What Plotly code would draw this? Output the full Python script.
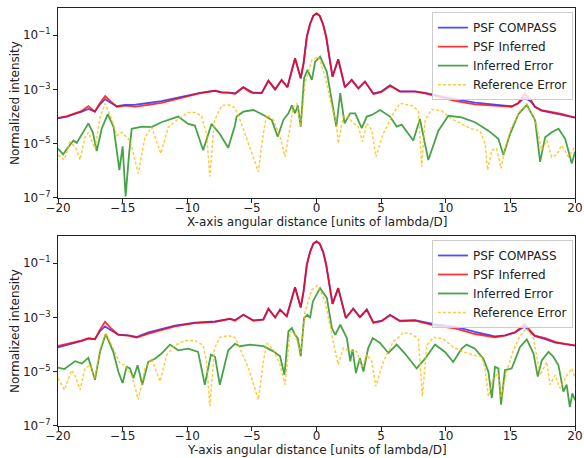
import numpy as np
import plotly.graph_objects as go

# ---------------- data (log10 of normalized intensity) ----------------
# Top panel: X-axis cut
top_x_psf = [-20, -19.3, -18.7, -18.2, -17.65, -17.15, -16.75, -16.35, -15.9, -15.45, -14.8, -14.0, -13.0, -12.0,
             -11.0, -10.0, -9.0, -7.85, -7.35, -6.7, -6.3, -5.66, -5.2, -4.88, -4.24, -3.72, -3.2, -2.7, -2.25,
             -1.66, -1.22, -1.0, -0.75, -0.5, -0.25, 0.0, 0.25, 0.5, 0.75, 1.0, 1.24, 1.68, 2.2, 2.72, 3.24, 3.75,
             4.4, 5.0, 5.69, 6.46, 7.62, 8.4, 9.17, 10.7, 12.26, 13.8, 15.1, 15.6, 16.1, 16.6, 16.9, 17.4, 18.2,
             18.97, 19.5, 20]
top_compass_log10 = [-4.07, -4.0, -3.9, -3.83, -3.72, -3.82, -3.55, -3.36, -3.5, -3.62, -3.57, -3.56, -3.5, -3.43,
                     -3.33, -3.23, -3.13, -3.05, -3.1, -3.12, -3.15, -2.92, -3.03, -3.12, -3.13, -2.68, -3.0, -2.65,
                     -2.92, -1.85, -2.59, -2.04, -1.06, -0.59, -0.29, -0.2, -0.29, -0.59, -1.06, -1.85, -2.53, -1.89,
                     -2.92, -2.65, -2.96, -2.71, -3.15, -3.08, -2.85, -3.07, -3.07, -3.13, -3.21, -3.36, -3.49, -3.57,
                     -3.62, -3.52, -3.3, -3.45, -3.64, -3.78, -3.86, -3.94, -3.99, -4.04]
top_inferred_log10 = [-4.05, -3.98, -3.88, -3.8, -3.62, -3.82, -3.5, -3.25, -3.45, -3.64, -3.6, -3.63, -3.57, -3.5,
                      -3.38, -3.25, -3.14, -3.05, -3.12, -3.13, -3.16, -2.92, -3.08, -3.14, -3.14, -2.68, -3.0, -2.65,
                      -2.92, -1.85, -2.59, -2.04, -1.06, -0.59, -0.29, -0.2, -0.29, -0.59, -1.06, -1.85, -2.53, -1.89,
                      -2.92, -2.65, -2.96, -2.71, -3.17, -3.1, -2.87, -3.08, -3.08, -3.15, -3.24, -3.42, -3.55, -3.6,
                      -3.64, -3.5, -3.16, -3.4, -3.64, -3.76, -3.82, -3.9, -3.97, -4.03]
top_x_inf_err = [-20.0, -19.6, -19.2, -18.8, -18.55, -18.16, -17.65, -17.3, -17.0, -16.62,
                 -16.15, -15.7, -15.46, -15.25, -15.0, -14.77, -14.51, -14.3, -13.5, -12.76,
                 -12.0, -10.7, -9.93, -9.41, -8.77, -8.12, -7.48, -6.83, -6.31, -6.18,
                 -5.66, -4.88, -4.11, -3.46, -3.0, -2.56, -2.17, -1.91, -1.66, -1.45,
                 -1.22, -0.96, -0.7, -0.36, -0.1, 0.28, 0.8, 1.19, 1.53, 1.84,
                 2.17, 2.61, 2.99, 3.5, 3.89, 4.28, 4.92, 5.69, 6.21, 6.59,
                 7.0, 7.49, 8.0, 8.65, 9.43, 10.2, 11.23, 12.26, 13.3, 14.07,
                 14.46, 14.98, 15.62, 16.27, 16.92, 17.3, 17.69, 18.2, 18.72, 19.24,
                 19.75, 20.0]
top_inf_err_log10 = [-5.18, -5.39, -5.12, -4.88, -4.97, -4.64, -4.25, -4.6, -5.27, -4.45,
                     -3.91, -4.39, -5.2, -5.97, -5.1, -6.94, -5.42, -4.45, -4.37, -4.39,
                     -4.21, -4.0, -4.27, -4.33, -5.24, -4.27, -4.64, -5.15, -4.33, -4.0,
                     -3.82, -3.76, -3.94, -4.13, -4.74, -4.12, -3.88, -3.59, -3.88, -3.59,
                     -4.37, -2.59, -2.28, -2.65, -1.98, -1.79, -2.35, -3.39, -4.37, -3.14,
                     -4.25, -3.88, -3.88, -4.43, -4.0, -3.94, -3.76, -4.0, -4.37, -4.3,
                     -4.55, -4.88, -4.09, -5.6, -4.52, -3.97, -4.03, -4.21, -4.52, -4.82,
                     -5.42, -4.64, -3.91, -3.57, -4.15, -5.67, -4.76, -4.58, -4.45, -4.82,
                     -5.73, -5.3]
top_x_ref_err = [-20.0, -19.5, -19.1, -18.65, -18.3, -17.91, -17.65, -17.14, -16.75, -16.36,
                 -15.85, -15.46, -15.07, -14.43, -13.79, -13.27, -12.76, -12.37, -12.04, -11.47,
                 -10.7, -9.93, -9.41, -8.9, -8.51, -8.25, -7.9, -7.34, -6.83, -6.31,
                 -5.92, -5.27, -4.5, -4.11, -3.85, -3.33, -2.82, -2.43, -2.04, -1.79,
                 -1.53, -1.22, -0.89, -0.36, 0.15, 0.67, 1.06, 1.53, 1.68, 2.07,
                 2.46, 2.84, 3.24, 3.55, 3.89, 4.28, 4.59, 5.18, 5.95, 6.46,
                 6.8, 7.36, 7.88, 8.14, 8.4, 8.91, 9.69, 10.46, 11.23, 12.0,
                 12.65, 13.04, 13.24, 13.56, 13.94, 14.28, 14.58, 15.1, 15.75, 16.27,
                 16.92, 17.43, 17.82, 18.2, 18.59, 18.97, 19.49, 20.0]
top_ref_err_log10 = [-5.42, -5.6, -4.94, -5.12, -5.6, -4.76, -4.58, -5.18, -4.03, -3.52,
                     -4.09, -4.7, -4.58, -4.88, -6.09, -4.76, -4.39, -4.88, -5.36, -4.39,
                     -4.09, -3.85, -3.85, -3.97, -4.64, -6.21, -4.15, -3.6, -3.57, -3.67,
                     -4.13, -4.99, -6.03, -4.62, -3.94, -4.13, -4.74, -5.48, -4.37, -3.64,
                     -3.51, -4.37, -2.78, -1.92, -1.79, -2.53, -3.39, -4.25, -4.99, -4.0,
                     -4.0, -4.25, -4.37, -4.92, -4.25, -4.5, -5.48, -4.62, -3.88, -3.51,
                     -3.55, -3.59, -3.79, -5.85, -4.15, -3.73, -3.79, -4.09, -4.27, -4.45,
                     -4.52, -5.0, -5.97, -5.24, -5.18, -5.91, -5.18, -4.39, -3.79, -3.55,
                     -4.15, -5.24, -4.88, -5.5, -5.4, -5.06, -5.48, -5.12]

# Bottom panel: Y-axis cut
bot_x_psf = [-20, -19.3, -18.68, -18.2, -17.65, -17.14, -16.75, -16.36, -15.9, -15.33, -14.56, -13.92, -13.0, -12.0,
             -10.96, -9.41, -7.85, -6.7, -6.31, -5.66, -4.88, -4.11, -3.72, -3.2, -2.82, -2.3, -1.66, -1.22, -1.0,
             -0.75, -0.5, -0.25, 0.0, 0.25, 0.52, 0.75, 1.0, 1.24, 1.68, 2.27, 2.84, 3.36, 3.89, 4.4, 5.05, 5.69,
             6.46, 7.62, 9.17, 10.71, 12.26, 13.81, 14.58, 15.36, 16.1, 16.88, 17.69, 18.46, 19.24, 20]
bot_compass_log10 = [-4.1, -4.02, -3.95, -3.87, -3.78, -3.8, -3.5, -3.33, -3.47, -3.63,
                     -3.66, -3.72, -3.55, -3.43, -3.3, -3.19, -3.15, -3.05, -3.1, -2.9,
                     -3.11, -3.07, -2.68, -3.0, -2.71, -2.96, -1.89, -2.63, -2.04, -1.06,
                     -0.59, -0.29, -0.2, -0.29, -0.59, -1.06, -1.85, -2.5, -1.92, -3.02,
                     -2.68, -2.99, -2.71, -3.18, -3.12, -2.9, -3.12, -3.1, -3.26, -3.34,
                     -3.53, -3.7, -3.66, -3.55, -3.33, -3.68, -3.8, -3.93, -3.98, -4.04]
bot_inferred_log10 = [-4.05, -3.98, -3.92, -3.85, -3.76, -3.8, -3.45, -3.16, -3.4, -3.64,
                      -3.67, -3.74, -3.6, -3.48, -3.33, -3.21, -3.16, -3.05, -3.12, -2.9,
                      -3.12, -3.08, -2.68, -3.0, -2.71, -2.96, -1.89, -2.63, -2.04, -1.06,
                      -0.59, -0.29, -0.2, -0.29, -0.59, -1.06, -1.85, -2.5, -1.92, -3.02,
                      -2.68, -2.99, -2.71, -3.2, -3.14, -2.92, -3.14, -3.12, -3.3, -3.4,
                      -3.61, -3.73, -3.67, -3.55, -3.24, -3.67, -3.76, -3.9, -3.97, -4.03]
bot_x_inf_err = [-20.0, -19.5, -18.68, -18.16, -17.65, -17.14, -16.75, -16.31, -15.72, -15.33,
                 -15.0, -14.69, -14.43, -14.17, -13.84, -13.48, -13.02, -12.5, -11.99, -11.34,
                 -10.7, -9.93, -9.16, -8.64, -8.17, -7.85, -7.48, -6.83, -6.31, -5.92,
                 -5.14, -4.11, -3.33, -2.82, -2.48, -2.17, -1.91, -1.66, -1.45, -1.22,
                 -0.96, -0.7, -0.5, -0.28, 0.28, 0.8, 1.19, 1.45, 1.84, 2.35,
                 2.61, 2.79, 3.05, 3.36, 3.63, 4.0, 4.35, 4.92, 5.56, 6.21,
                 6.84, 7.36, 7.75, 8.4, 9.17, 9.94, 10.58, 11.23, 11.61, 12.26,
                 12.91, 13.3, 13.56, 13.81, 14.07, 14.28, 14.58, 15.1, 15.75, 16.27,
                 16.79, 17.12, 17.43, 17.95, 18.33, 18.72, 19.1, 19.35, 19.6, 19.8, 20.0]
bot_inf_err_log10 = [-4.85, -4.9, -4.61, -4.7, -4.49, -5.3, -4.27, -3.61, -4.27, -5.0,
                     -5.42, -4.82, -4.88, -5.24, -4.76, -5.48, -4.64, -4.52, -4.33, -4.0,
                     -4.21, -4.15, -4.27, -5.48, -4.37, -4.45, -5.48, -4.21, -3.97, -4.06,
                     -4.0, -4.06, -4.25, -4.43, -5.11, -3.51, -3.39, -3.64, -3.76, -4.43,
                     -3.02, -2.9, -3.02, -2.41, -1.92, -2.28, -3.39, -3.64, -3.27, -3.76,
                     -4.62, -4.18, -5.05, -4.5, -4.99, -4.13, -3.76, -3.94, -4.31, -4.0,
                     -4.33, -4.64, -4.88, -4.52, -4.0, -4.27, -4.64, -4.15, -4.0, -4.15,
                     -4.52, -5.0, -5.97, -4.82, -4.88, -6.21, -4.94, -4.88, -4.09, -3.81,
                     -4.33, -5.18, -4.58, -4.27, -4.45, -4.76, -5.73, -5.48, -6.3, -5.8, -6.05]
bot_x_ref_err = [-20.0, -19.5, -18.94, -18.65, -18.3, -17.91, -17.52, -17.14, -16.75, -16.31,
                 -15.72, -15.2, -14.82, -14.3, -13.79, -13.27, -12.76, -12.37, -12.1, -11.6,
                 -10.96, -10.19, -9.41, -8.77, -8.51, -8.25, -7.9, -7.48, -6.83, -6.31,
                 -5.92, -5.27, -4.5, -4.11, -3.85, -3.33, -2.82, -2.43, -2.04, -1.66,
                 -1.22, -0.89, -0.36, 0.08, 0.67, 1.06, 1.45, 1.68, 2.07, 2.61,
                 3.11, 3.55, 3.89, 4.28, 4.59, 5.18, 5.95, 6.46, 6.7, 7.36,
                 7.88, 8.19, 8.53, 9.04, 9.81, 10.58, 11.36, 12.13, 12.78, 13.04,
                 13.3, 13.68, 14.07, 14.28, 14.71, 15.23, 15.75, 16.27, 16.79, 17.3,
                 17.82, 18.07, 18.46, 18.84, 19.24, 19.75, 20.0]
bot_ref_err_log10 = [-5.24, -5.67, -4.94, -5.18, -5.67, -4.88, -4.76, -5.24, -4.15, -3.58,
                     -4.15, -4.7, -4.76, -5.12, -6.03, -4.88, -4.52, -5.0, -5.36, -4.39,
                     -4.03, -3.85, -3.85, -4.03, -4.64, -6.27, -4.15, -3.73, -3.67, -3.73,
                     -4.13, -4.86, -6.03, -4.62, -3.94, -4.19, -4.74, -5.48, -3.51, -3.64,
                     -4.31, -2.78, -1.98, -1.82, -2.41, -3.39, -4.25, -4.74, -4.13, -4.25,
                     -4.25, -4.86, -4.37, -4.62, -5.54, -4.62, -3.88, -3.7, -3.55, -3.61,
                     -3.79, -5.91, -4.03, -3.73, -3.79, -4.09, -4.27, -4.39, -4.45, -4.88,
                     -5.91, -5.24, -5.06, -5.97, -5.0, -4.21, -3.67, -3.4, -3.79, -5.12,
                     -4.64, -5.48, -5.12, -5.61, -5.24, -4.88, -5.24]

series_names = ["PSF COMPASS", "PSF Inferred", "Inferred Error", "Reference Error"]
y_tick_vals = [1e-7, 1e-5, 1e-3, 1e-1]
y_tick_text = ["10<sup>\u22127</sup>", "10<sup>\u22125</sup>", "10<sup>\u22123</sup>", "10<sup>\u22121</sup>"]
x_titles = ["X-axis angular distance [units of lambda/D]", "Y-axis angular distance [units of lambda/D]"]
y_title = "Normalized intensity"

# ---------------- figure ----------------
colors = ["rgba(0,0,255,0.7)", "rgba(255,0,0,0.8)", "rgba(0,128,0,0.72)", "rgba(255,185,0,0.75)"]
widths = [1.8, 1.8, 1.8, 1.5]
dashes = ["solid", "solid", "solid", "3px,2px"]

panels = [
    (top_x_psf, top_compass_log10, top_inferred_log10, top_x_inf_err, top_inf_err_log10, top_x_ref_err, top_ref_err_log10),
    (bot_x_psf, bot_compass_log10, bot_inferred_log10, bot_x_inf_err, bot_inf_err_log10, bot_x_ref_err, bot_ref_err_log10),
]

fig = go.Figure()
for i, (xp, comp, inf, xe, ie, xr, re_) in enumerate(panels):
    assert len(xp) == len(comp) == len(inf)
    assert len(xe) == len(ie)
    assert len(xr) == len(re_)
    ax = "" if i == 0 else "2"
    leg = "legend" if i == 0 else "legend2"
    data = [(xp, comp), (xp, inf), (xe, ie), (xr, re_)]
    for k, (xs, ls) in enumerate(data):
        fig.add_trace(go.Scatter(
            x=xs, y=np.power(10.0, np.array(ls)), mode="lines", name=series_names[k],
            line=dict(color=colors[k], width=widths[k], dash=dashes[k]),
            xaxis="x" + ax, yaxis="y" + ax, legend=leg, showlegend=True,
        ))

font = dict(family="DejaVu Sans", size=12, color="#222")
axis_common = dict(showline=True, mirror=True, linecolor="#222", linewidth=1, ticks="outside", ticklen=4,
                   tickcolor="#222", showgrid=False, zeroline=False, tickfont=font, automargin=False)

# axis titles as annotations (paper coordinates)
top_dom = [0.5455, 1.0]
bot_dom = [0.0, 0.4545]
annotations = [
    dict(text=x_titles[0], x=0.5, y=0.488, xref="paper", yref="paper", showarrow=False,
         xanchor="center", yanchor="middle", font=font),
    dict(text=x_titles[1], x=0.5, y=-0.0574, xref="paper", yref="paper", showarrow=False,
         xanchor="center", yanchor="middle", font=font),
    dict(text=y_title, x=-0.0832, y=sum(top_dom) / 2, xref="paper", yref="paper", showarrow=False,
         xanchor="center", yanchor="middle", textangle=-90, font=font),
    dict(text=y_title, x=-0.0832, y=sum(bot_dom) / 2, xref="paper", yref="paper", showarrow=False,
         xanchor="center", yanchor="middle", textangle=-90, font=font),
]

fig.update_layout(
    width=584, height=458,
    margin=dict(l=58, r=9, t=8, b=32),
    paper_bgcolor="white", plot_bgcolor="white",
    font=font,
    annotations=annotations,
    xaxis=dict(domain=[0, 1], anchor="y", range=[-20, 20], dtick=5, tick0=0,
               ticklabelposition="outside", ticklabelstandoff=-5, **axis_common),
    yaxis=dict(domain=top_dom, anchor="x", type="log", range=[-7, 0],
               tickvals=y_tick_vals, ticktext=y_tick_text, **axis_common),
    xaxis2=dict(domain=[0, 1], anchor="y2", range=[-20, 20], dtick=5, tick0=0,
                ticklabelposition="outside", ticklabelstandoff=-5, **axis_common),
    yaxis2=dict(domain=bot_dom, anchor="x2", type="log", range=[-7, 0],
                tickvals=y_tick_vals, ticktext=y_tick_text, **axis_common),
    legend=dict(x=0.996, y=0.99, xanchor="right", yanchor="top", bgcolor="rgba(255,255,255,0.8)",
                bordercolor="#cccccc", borderwidth=1, font=font, tracegroupgap=0),
    legend2=dict(x=0.996, y=0.445, xanchor="right", yanchor="top", bgcolor="rgba(255,255,255,0.8)",
                 bordercolor="#cccccc", borderwidth=1, font=font, tracegroupgap=0),
)

fig.write_html("out.html")
